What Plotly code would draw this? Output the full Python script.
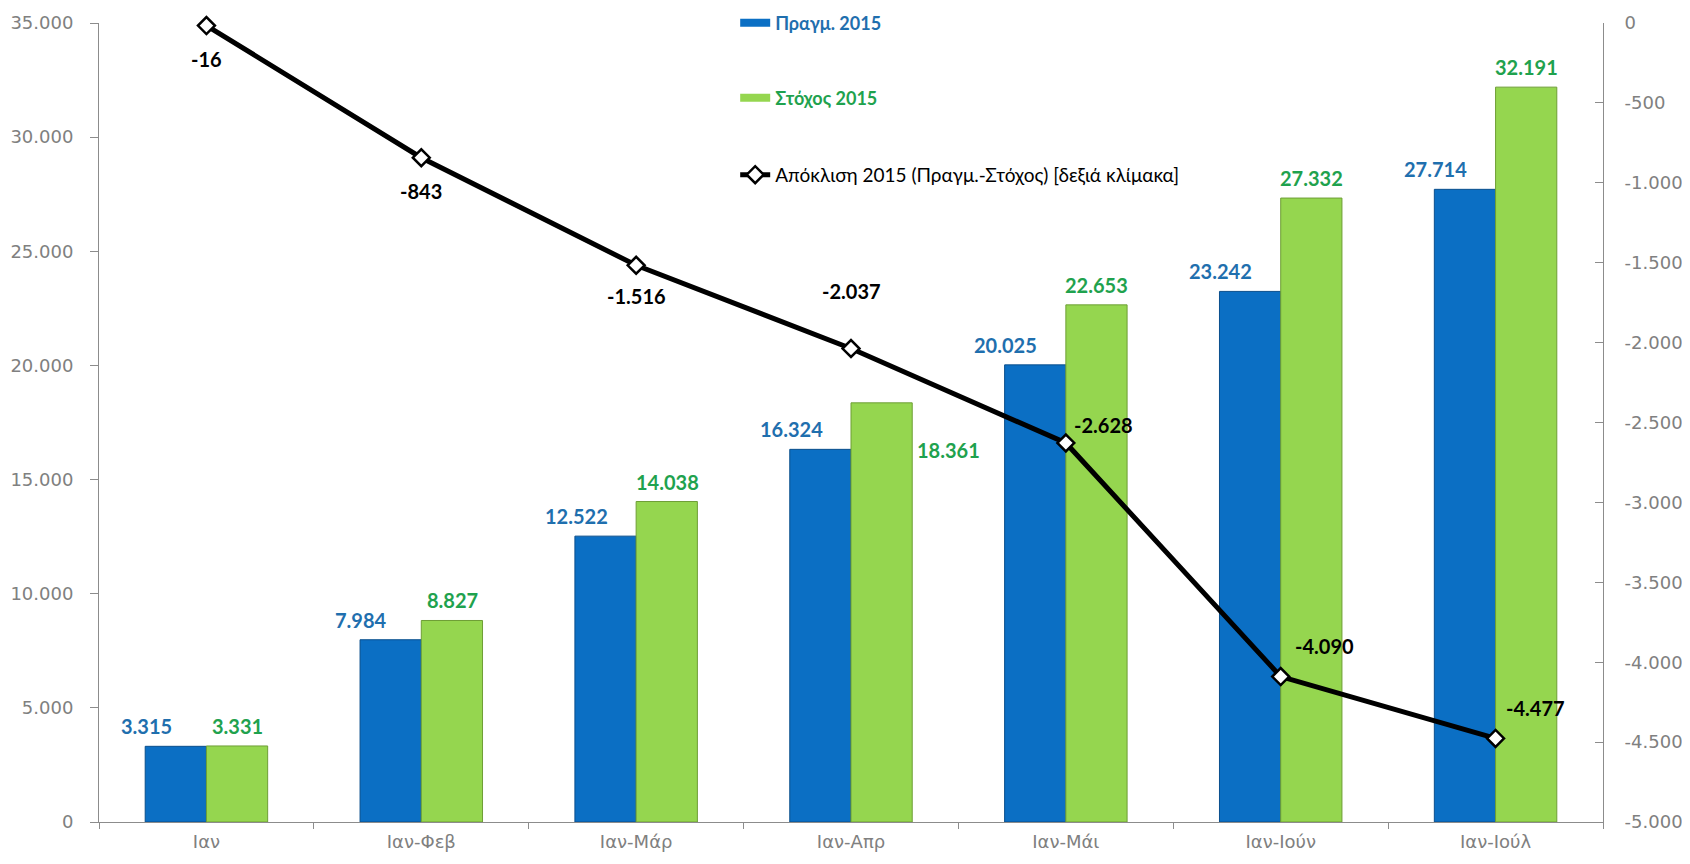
import plotly.graph_objects as go

# --- data ---
months = ['Ιαν', 'Ιαν-Φεβ', 'Ιαν-Μάρ', 'Ιαν-Απρ', 'Ιαν-Μάι', 'Ιαν-Ιούν', 'Ιαν-Ιούλ']
actual_2015 = [3315, 7984, 12522, 16324, 20025, 23242, 27714]
target_2015 = [3331, 8827, 14038, 18361, 22653, 27332, 32191]
deviation_2015 = [-16, -843, -1516, -2037, -2628, -4090, -4477]

left_ticks = [0, 5000, 10000, 15000, 20000, 25000, 30000, 35000]
right_ticks = [0, -500, -1000, -1500, -2000, -2500, -3000, -3500, -4000, -4500, -5000]

BLUE = '#0b6fc4'
GREEN = '#95d64f'
BLUE_TXT = '#1f6fae'
GREEN_TXT = '#1fa24e'
AXIS_GREY = '#8c8c8c'
TICK_GREY = '#808080'


def fmt(v):
    # greek style thousands separator, plain hyphen minus
    return f"{v:,}".replace(',', '.')


# label nudges (pixels)
dev_label_shift = [(0, -33), (0, -33), (0, -31), (0, 58), (38, 18), (44, 31), (40, 30)]
actual_label_shift = (-60, 6)
target_label_shift = [(31, 6)] * 7
target_label_shift[3] = (97, -47)   # 18.361 sits beside its bar in the original

label_font = dict(family='Lato', size=20, weight='bold')

fig = go.Figure()

fig.add_trace(go.Bar(
    x=months, y=actual_2015, name='Πραγμ. 2015', showlegend=False,
    marker=dict(color=BLUE, line=dict(color='#0a4f8c', width=1))))

fig.add_trace(go.Bar(
    x=months, y=target_2015, name='Στόχος 2015', showlegend=False,
    marker=dict(color=GREEN, line=dict(color='#6e9e35', width=1))))

fig.add_trace(go.Scatter(
    x=months, y=deviation_2015, yaxis='y2', mode='lines+markers',
    name='Απόκλιση 2015 (Πραγμ.-Στόχος) [δεξιά κλίμακα]',
    line=dict(color='black', width=5),
    marker=dict(symbol='diamond', size=13, color='white', line=dict(color='black', width=2.5)),
    cliponaxis=False, legend='legend3'))

# flat wide legend keys like the original (bars draw a square key in plotly)
fig.add_trace(go.Scatter(x=[None], y=[None], mode='lines', name='Πραγμ. 2015',
                         line=dict(color=BLUE, width=8), legend='legend'))
fig.add_trace(go.Scatter(x=[None], y=[None], mode='lines', name='Στόχος 2015',
                         line=dict(color=GREEN, width=8), legend='legend2'))

annotations = []
for m, v in zip(months, actual_2015):
    annotations.append(dict(x=m, y=v, xref='x', yref='y', text=fmt(v), showarrow=False,
                            yanchor='bottom', xshift=actual_label_shift[0],
                            yshift=actual_label_shift[1], font=dict(label_font, color=BLUE_TXT)))
for m, v, (dx, dy) in zip(months, target_2015, target_label_shift):
    annotations.append(dict(x=m, y=v, xref='x', yref='y', text=fmt(v), showarrow=False,
                            yanchor='bottom' if dy > 0 else 'middle', xshift=dx, yshift=dy,
                            font=dict(label_font, color=GREEN_TXT)))
for m, v, (dx, dy) in zip(months, deviation_2015, dev_label_shift):
    annotations.append(dict(x=m, y=v, xref='x', yref='y2', text=fmt(v), showarrow=False,
                            xshift=dx, yshift=dy, font=dict(label_font, color='black')))

tick_font = dict(family='DejaVu Sans', size=18, color=TICK_GREY)
leg_common = dict(x=0.423, xanchor='left', yanchor='middle', bgcolor='rgba(0,0,0,0)')

# page body has an 8px margin, so the figure is sized to fit inside the window
fig.update_layout(
    width=1674, height=848,
    margin=dict(l=91, r=79, t=15, b=34, autoexpand=False),
    paper_bgcolor='white', plot_bgcolor='white',
    barmode='group', bargap=0.43, bargroupgap=0,
    separators=',.',
    showlegend=True,
    annotations=annotations,
    xaxis=dict(showline=True, linecolor=AXIS_GREY, linewidth=1, ticks='outside',
               tickson='boundaries', ticklen=6, tickcolor=AXIS_GREY, ticklabelstandoff=3,
               tickfont=dict(family='DejaVu Sans', size=18, color=TICK_GREY), showgrid=False),
    yaxis=dict(range=[0, 35000], tickvals=left_ticks, ticktext=[fmt(v) for v in left_ticks],
               showline=True, linecolor=AXIS_GREY, ticks='outside', ticklen=8,
               ticklabelstandoff=13, tickcolor=AXIS_GREY, tickfont=tick_font,
               showgrid=False, zeroline=False),
    yaxis2=dict(range=[-5000, 0], overlaying='y', side='right',
                tickvals=right_ticks, ticktext=[fmt(v) for v in right_ticks],
                showline=True, linecolor=AXIS_GREY, ticks='inside', ticklen=8,
                ticklabelstandoff=17, tickcolor=AXIS_GREY, tickfont=tick_font,
                showgrid=False, zeroline=False),
    legend=dict(leg_common, y=1.0, font=dict(family='Lato', size=18, color=BLUE_TXT, weight='bold')),
    legend2=dict(leg_common, y=0.906, font=dict(family='Lato', size=18, color=GREEN_TXT, weight='bold')),
    legend3=dict(leg_common, y=0.81, font=dict(family='Lato', size=19, color='black')),
)

fig.write_html("out.html")
